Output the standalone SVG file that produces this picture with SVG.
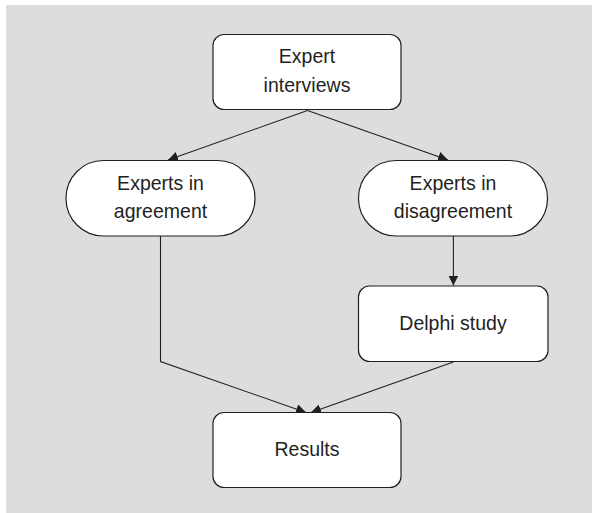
<svg xmlns="http://www.w3.org/2000/svg" width="599" height="513" viewBox="0 0 599 513">
<defs>
<marker id="arr" viewBox="0 0 10 10" refX="10" refY="5" markerWidth="10" markerHeight="10" markerUnits="userSpaceOnUse" orient="auto">
<path d="M0,0 L10,5 L0,10 z" fill="#231f20"/>
</marker>
<style>
.box{fill:#ffffff;stroke:#231f20;stroke-width:1.2}
.t{font-family:"Liberation Sans",Arial,sans-serif;font-size:21px;fill:#231f20;text-anchor:middle}
.c{fill:none;stroke:#231f20;stroke-width:1.1}
</style>
</defs>
<rect x="0" y="0" width="599" height="513" fill="#ffffff"/>
<rect x="6" y="5" width="586" height="508" fill="#dcdddf"/>
<g id="connectors">
<path class="c" d="M307.5,110.5 L168,160" marker-end="url(#arr)"/>
<path class="c" d="M307.5,110.5 L448,160" marker-end="url(#arr)"/>
<path class="c" d="M453.4,236 L453.4,285.5" marker-end="url(#arr)"/>
<path class="c" d="M160.5,236 L160.5,361.5 L306,412.5" marker-end="url(#arr)"/>
<path class="c" d="M453.4,362 L311,412.5" marker-end="url(#arr)"/>
</g>
<g id="expert-interviews">
<rect class="box" x="213" y="34.5" width="188" height="75" rx="11"/>
<text class="t" transform="translate(307,63) scale(0.93,1)">Expert</text>
<text class="t" transform="translate(307,92) scale(0.93,1)">interviews</text>
</g>
<g id="experts-agreement">
<rect class="box" x="66" y="160.5" width="189" height="75.5" rx="37.5"/>
<text class="t" transform="translate(160.5,190) scale(0.93,1)">Experts in</text>
<text class="t" transform="translate(160.5,218) scale(0.93,1)">agreement</text>
</g>
<g id="experts-disagreement">
<rect class="box" x="358.5" y="160.5" width="189" height="75.5" rx="37.5"/>
<text class="t" transform="translate(453,190) scale(0.93,1)">Experts in</text>
<text class="t" transform="translate(453,218) scale(0.93,1)">disagreement</text>
</g>
<g id="delphi-study">
<rect class="box" x="358.5" y="286" width="189.5" height="75.5" rx="11"/>
<text class="t" transform="translate(453,330) scale(0.93,1)">Delphi study</text>
</g>
<g id="results">
<rect class="box" x="213" y="412.5" width="188" height="75" rx="11"/>
<text class="t" transform="translate(307,456) scale(0.93,1)">Results</text>
</g>
</svg>
